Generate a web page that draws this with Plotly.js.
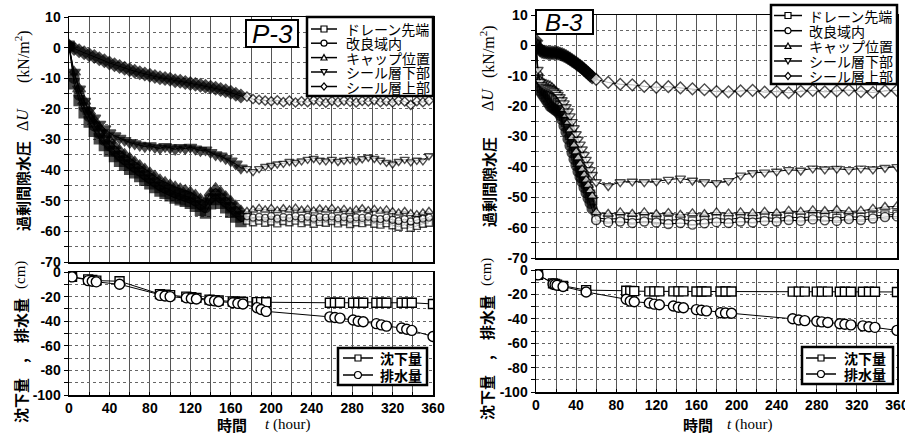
<!DOCTYPE html>
<html><head><meta charset="utf-8">
<script src="https://cdn.plot.ly/plotly-3.0.1.min.js"></script>
<style>html,body{margin:0;padding:0;background:#fff}#chart{width:905px;height:436px}</style>
</head><body><div id="chart"></div>
<script>
// ---------- DATA ----------
const seriesNames = ['ドレーン先端', '改良域内', 'キャップ位置', 'シール層下部', 'シール層上部'];
const lowerNames = ['沈下量', '排水量'];

// P-3 : excess pore water pressure (kN/m2)
const tDenseP3 = [0,5,10,15,20,25,30,35,40,45,50,55,60,65,70,75,80,85,90,95,100,105,110,115,120,125,130,135,140,145,150,155,160,165,170];
const tSparseP3 = [176,182,188,194,200,206,212,218,224,230,236,242,248,254,260,266,272,278,284,290,296,302,308,314,320,326,332,338,344,350,356];
const p3DrainDense = [0.5,-11.8,-17.3,-21.3,-24.3,-27.3,-29.8,-32,-33.8,-35.6,-37.1,-38.4,-39.7,-40.9,-42.1,-43.3,-44.5,-45.7,-46.8,-47.6,-48.4,-49.1,-49.7,-50.2,-50.8,-51.8,-53.1,-54,-51,-49.6,-50.8,-52.3,-53.8,-55.3,-56.8];
const p3ImprDense = [0.5,-10,-15.5,-19.5,-22.5,-25.5,-28,-30.2,-32,-33.8,-35.3,-36.6,-37.9,-39.1,-40.3,-41.5,-42.7,-43.9,-45,-45.8,-46.6,-47.3,-47.9,-48.4,-49,-50,-51.3,-52.2,-49.2,-47.8,-49,-50.5,-52,-53.5,-55];
const p3CapDense = [0.5,-8,-13.5,-17.5,-20.8,-23.8,-26.3,-28.5,-30.3,-32,-33.6,-34.9,-36.1,-37.3,-38.5,-39.7,-40.9,-42,-43.2,-44,-44.8,-45.5,-46.1,-46.6,-47.2,-48.2,-49.5,-50.3,-47.4,-46,-47.2,-48.7,-50.2,-51.7,-53.3];
const p3SealLowDense = [0.5,-8,-13.5,-17.5,-20.5,-23,-25,-26.5,-27.8,-28.8,-29.6,-30.3,-31,-31.4,-31.9,-32.3,-32,-32.6,-32.9,-32.3,-32.7,-33.2,-32.6,-33,-32.5,-33.1,-33.6,-33.4,-34.2,-35,-35.4,-36.2,-37,-38,-39.3];
const p3SealUpDense = [0.5,-0.3,-1.0,-1.7,-2.3,-2.9,-3.6,-4.3,-5.0,-5.6,-6.2,-6.7,-7.2,-7.7,-8.2,-8.6,-9.0,-9.4,-9.8,-10.1,-10.3,-10.8,-11.0,-11.4,-11.7,-12.0,-12.3,-12.6,-12.9,-13.3,-13.7,-14.1,-14.6,-15.2,-15.8];
const p3DrainSparse = [-56.5,-57,-56.5,-57.2,-56.8,-57.4,-56.6,-57,-56.5,-57.3,-56.8,-57.5,-56.9,-57.2,-56.6,-57.4,-56.8,-57.6,-57,-57.3,-56.8,-57.5,-57.8,-57.3,-58,-58.5,-57.8,-58.8,-58.2,-57.5,-57.2];
const p3ImprSparse = [-55,-55.5,-55.2,-55.6,-55,-55.8,-55.3,-55.6,-55,-55.7,-55.2,-55.8,-55.3,-55.5,-55.1,-55.7,-55.3,-55.9,-55.4,-55.6,-55.2,-55.8,-56,-55.5,-56.2,-56.6,-56,-56.8,-56.3,-55.8,-55.5];
const p3CapSparse = [-53.5,-53,-52.5,-53,-52.5,-53.2,-52.6,-53,-52.4,-53.1,-52.8,-53.3,-52.7,-53,-52.5,-53.2,-52.8,-53.5,-53,-52.6,-53.2,-52.8,-53.4,-53,-53.6,-54,-53.5,-54.2,-54.5,-54,-53.5];
const p3SealLowSparse = [-39.5,-40.5,-39.5,-38.8,-38.5,-38,-37.8,-37.2,-37.5,-37,-36.5,-36.2,-36.8,-37,-36.5,-37.2,-36.8,-36.5,-37,-36.3,-35.8,-36.2,-36.8,-37.5,-38,-37.2,-36.5,-37.3,-36.8,-37,-35.3];
const p3SealUpSparse = [-16,-16.8,-17,-17.3,-17.5,-17.2,-17.8,-17.3,-17.9,-17.5,-17.8,-17.2,-17.6,-18,-17.4,-17.8,-17.3,-17.7,-17.9,-17.4,-17.6,-17.2,-17.8,-17.5,-17.9,-17.3,-17.6,-18.7,-17.5,-17.8,-17.3];

// B-3 : excess pore water pressure (kN/m2)
const tDenseB3 = [0,2,4,6,8,10,12,14,16,18,20,22,24,26,28,30,32,34,36,38,40,42,44,46,48,50,52,54,56];
const tSparseB3 = [60,72,84,96,108,120,132,144,156,168,180,192,204,216,228,240,252,264,276,288,300,312,324,336,348,360];
const b3DrainDense = [0,-11,-13.5,-14,-14.5,-15,-15.5,-16,-16.5,-17.2,-18,-19,-20,-21.5,-23.3,-25.2,-27.3,-29.5,-31.8,-34,-36.3,-38.3,-40.2,-42,-43.8,-45.6,-47.4,-49.2,-51];
const b3ImprDense = [0,-12,-15,-16,-17,-18,-19,-20,-20.5,-21,-21.5,-22,-23,-24.5,-26.5,-28.5,-30.8,-33,-35.3,-37.5,-39.5,-41.5,-43.3,-45,-46.8,-48.5,-50.3,-52,-53.8];
const b3CapDense = [1,-9,-11.5,-12,-12.5,-12.8,-13,-13.3,-13.8,-14.5,-15.3,-16.3,-17.5,-19,-21,-23,-25.3,-27.8,-30.3,-32.8,-35,-37,-39,-40.8,-42.6,-44.3,-46,-47.8,-49.6];
const b3SealLowDense = [1,-8,-12,-13,-13.5,-13.8,-14,-14.3,-14.6,-15,-15.5,-16.2,-17,-18,-19,-20.3,-21.7,-23.3,-25.2,-27.2,-29.2,-31,-32.6,-34.2,-36,-37.6,-39.3,-41,-42.6];
const b3SealUpDense = [1.5,-0.5,-1.5,-2,-2.2,-2.3,-2.4,-2.5,-2.4,-2.5,-2.4,-2.6,-2.8,-3,-3.3,-3.7,-4.1,-4.5,-5,-5.4,-5.9,-6.4,-6.9,-7.4,-8,-8.6,-9.2,-9.8,-10.4];
const b3DrainSparse = [-56.8,-57.2,-57,-57.5,-57,-57.4,-57.6,-57.3,-57.8,-57.4,-57,-57.3,-56.8,-57.1,-56.7,-57,-56.5,-56.8,-56.4,-56.6,-56.9,-56.4,-56.6,-56.2,-55.8,-55.6];
const b3ImprSparse = [-57.5,-58.2,-58,-58.5,-58,-58.3,-58.8,-58.5,-59,-58.6,-58.2,-58.5,-58,-58.3,-57.8,-58,-57.5,-57.8,-57.3,-57.6,-57.8,-57.2,-57.5,-57,-56.5,-56.3];
const b3CapSparse = [-55,-55.5,-55,-55.5,-55,-55.6,-55.2,-55.8,-55.3,-55.6,-55,-55.4,-55,-55.3,-54.8,-55.2,-54.5,-54.8,-54.3,-54.6,-54.2,-54.7,-54.5,-53.8,-53.2,-53];
const b3SealLowSparse = [-45,-46.3,-45,-44.8,-45,-44.8,-44.2,-43.8,-44.5,-45,-45.3,-44.6,-42.8,-42,-41.8,-41.5,-41,-41.2,-40.5,-40.8,-40.6,-41,-40.5,-40.8,-40.3,-40];
const b3SealUpSparse = [-11.2,-12.2,-12.8,-13,-13.5,-13.8,-13.6,-14,-14.3,-14.6,-15.2,-15.3,-15,-14.8,-15.4,-15.2,-15.6,-15.1,-14.8,-15.3,-15,-14.7,-15.2,-15.5,-15,-14.8];

// settlement / drainage (cm)
const tLowP3 = [3,19,23,27,50,90,95,100,116,121,126,139,144,148,162,167,172,186,190,195,258,263,268,281,286,291,304,309,314,329,334,339,360];
const settleP3 = [-4,-6,-6.5,-7,-7.5,-18,-18.5,-18.8,-20,-20.5,-21,-22.5,-23,-23.2,-24,-24.2,-24.4,-24.5,-24.5,-24.6,-25,-25,-25,-25,-25,-25,-25,-25,-25,-25,-25,-25,-26];
const drainP3 = [-4,-7,-7.5,-8,-10,-19,-19.5,-20,-21,-21.5,-22,-23,-23.5,-24,-25,-25.5,-26,-29,-30.5,-32,-36.5,-37,-37.5,-39,-40,-40.5,-42,-43,-44,-45.5,-46.5,-47.5,-52.5];
const tLowB3 = [2,17,19,21,27,50,90,94,98,113,118,123,137,142,147,160,165,170,184,189,195,256,262,268,280,285,291,303,308,314,326,332,338,360];
const settleB3 = [-4,-11,-11.5,-12,-13,-16.5,-17,-17.2,-17.3,-17.5,-17.5,-17.5,-17.5,-17.5,-17.5,-17.6,-17.6,-17.6,-17.6,-17.6,-17.6,-17.7,-17.7,-17.7,-17.7,-17.7,-17.7,-17.8,-17.8,-17.8,-17.8,-17.8,-17.8,-18];
const drainB3 = [-4,-11.5,-12,-12.5,-13.5,-18,-24,-25.5,-26,-27,-28,-28.5,-29.5,-30.5,-31,-32.5,-33,-33.5,-35,-35.3,-35.5,-40,-41,-41.5,-42,-42.5,-43,-44,-44.5,-45,-45.8,-46.5,-47,-49.5];

// axis ticks
const xGridVals = [0,20,40,60,80,100,120,140,160,180,200,220,240,260,280,300,320,340,360];
const xTickLabels = ['0','40','80','120','160','200','240','280','320','360'];
const yUpperVals = [-70,-65,-60,-55,-50,-45,-40,-35,-30,-25,-20,-15,-10,-5,0,5,10];
const yUpperLabels = ['-70','-60','-50','-40','-30','-20','-10','0','10'];
const yLowerVals = [-100,-90,-80,-70,-60,-50,-40,-30,-20,-10,0];
const yLowerLabels = ['-100','-80','-60','-40','-20','0'];

// ---------- RENDER ----------
const W = 905, H = 436;
const px = x => x / W, py = y => 1 - y / H;
const SYM = ['square', 'circle', 'triangle-up', 'triangle-down', 'diamond'];
const SYM_LOW = ['square', 'circle'];

function pressureTraces(tD, tS, dense, sparse, xa, ya, fills, sizeD, sizeS) {
  return dense.map((d, i) => ({
    type: 'scatter', mode: 'lines+markers', name: seriesNames[i], showlegend: false,
    x: tD.concat(tS), y: d.concat(sparse[i]), xaxis: xa, yaxis: ya,
    line: {color: '#000', width: 1},
    marker: {symbol: SYM[i],
      size: tD.map(() => sizeD[i]).concat(tS.map(() => sizeS[i])),
      color: tD.map(() => fills[i]).concat(tS.map(() => '#fff')),
      line: {color: '#000', width: 1.4}}
  }));
}
function lowerTraces(t, series, xa, ya) {
  return series.map((s, i) => ({
    type: 'scatter', mode: 'lines+markers', name: lowerNames[i], showlegend: false,
    x: t, y: s, xaxis: xa, yaxis: ya,
    line: {color: '#000', width: 1},
    marker: {symbol: SYM_LOW[i], size: i === 0 ? 9 : 10, color: '#fff', line: {color: '#000', width: 1.4}}
  }));
}

const traces = [].concat(
  pressureTraces(tDenseP3, tSparseP3,
    [p3DrainDense, p3ImprDense, p3CapDense, p3SealLowDense, p3SealUpDense],
    [p3DrainSparse, p3ImprSparse, p3CapSparse, p3SealLowSparse, p3SealUpSparse],
    'x', 'y', ['#000', '#000', '#000', '#000', '#000'], [10, 10, 11, 11, 10], [7, 7, 8, 8, 7]),
  lowerTraces(tLowP3, [settleP3, drainP3], 'x2', 'y2'),
  pressureTraces(tDenseB3, tSparseB3,
    [b3DrainDense, b3ImprDense, b3CapDense, b3SealLowDense, b3SealUpDense],
    [b3DrainSparse, b3ImprSparse, b3CapSparse, b3SealLowSparse, b3SealUpSparse],
    'x3', 'y3', ['#777', '#000', '#fff', '#fff', '#000'], [9, 10, 9, 9, 10], [8, 9, 9, 9, 9]),
  lowerTraces(tLowB3, [settleB3, drainB3], 'x4', 'y4')
);

const tickFont = {family: '"Liberation Sans Narrow","Liberation Sans",Arial,sans-serif', size: 14, weight: 700, color: '#000'};
function xAxis(x0, x1, anchor, showLabels) {
  return {domain: [px(x0), px(x1)], anchor: anchor, range: [0, 360], tickmode: 'array',
    tickvals: xGridVals,
    ticktext: xGridVals.map(v => showLabels && xTickLabels.includes(String(v)) ? String(v) : ''),
    showticklabels: showLabels, ticklabeloverflow: 'allow',
    showgrid: true, gridcolor: '#555', gridwidth: 1, zeroline: false,
    showline: true, mirror: true, linecolor: '#000', linewidth: 1.5,
    ticks: showLabels ? 'inside' : '', ticklen: 3, tickcolor: '#000', tickfont: tickFont, fixedrange: true};
}
function yAxis(y0, y1, anchor, range, vals, labels) {
  return {domain: [py(y1), py(y0)], anchor: anchor, range: range, tickmode: 'array',
    tickvals: vals, ticktext: vals.map(v => labels.includes(String(v)) ? String(v) : ''),
    showgrid: true, gridcolor: '#666', gridwidth: 1, griddash: 'dot', zeroline: false,
    showline: true, mirror: true, linecolor: '#000', linewidth: 1.5,
    ticks: 'outside', ticklen: 4, tickcolor: '#000', tickfont: tickFont, fixedrange: true};
}

const cjk = '"Noto Sans CJK JP","Noto Sans CJK SC",sans-serif';
const serif = '"Liberation Serif","DejaVu Serif",serif';
const annotations = [];
const shapes = [];
function txt(text, x, y, opt) {
  annotations.push(Object.assign({text: text, x: px(x), y: py(y), xref: 'paper', yref: 'paper',
    showarrow: false, xanchor: 'center', yanchor: 'middle', borderpad: 0,
    font: {family: cjk, size: 14, color: '#000'}}, opt || {}));
}
function rect(x0, y0, x1, y1, w) {
  shapes.push({type: 'rect', xref: 'paper', yref: 'paper', x0: px(x0), x1: px(x1), y0: py(y1), y1: py(y0),
    line: {color: '#000', width: w}, fillcolor: '#fff', layer: 'above'});
}
function legendSymbol(sym, x0, x1, y, r) {
  shapes.push({type: 'line', xref: 'paper', yref: 'paper', x0: px(x0), x1: px(x1), y0: py(y), y1: py(y),
    line: {color: '#000', width: 1.5}});
  const cx = (x0 + x1) / 2;
  const base = {xref: 'paper', yref: 'paper', line: {color: '#000', width: 1.2}, fillcolor: '#fff'};
  if (sym === 'circle') shapes.push(Object.assign({type: 'circle', x0: px(cx - r), x1: px(cx + r), y0: py(y + r), y1: py(y - r)}, base));
  else if (sym === 'square') shapes.push(Object.assign({type: 'rect', x0: px(cx - r), x1: px(cx + r), y0: py(y + r), y1: py(y - r)}, base));
  else {
    let pts;
    if (sym === 'triangle-up') pts = [[cx, y - r], [cx + r, y + r * 0.8], [cx - r, y + r * 0.8]];
    else if (sym === 'triangle-down') pts = [[cx, y + r], [cx + r, y - r * 0.8], [cx - r, y - r * 0.8]];
    else pts = [[cx, y - r * 1.2], [cx + r, y], [cx, y + r * 1.2], [cx - r, y]];
    const d = 'M' + pts.map(p => px(p[0]) + ',' + py(p[1])).join('L') + 'Z';
    shapes.push(Object.assign({type: 'path', path: d}, base));
  }
}
const fBold = {family: cjk, size: 15, weight: 700, color: '#000'};
const fSerif = {family: serif, size: 16, color: '#000'};

// Panel P-3 (left)
txt('過剰間隙水圧', 22, 186, {textangle: -90, font: fBold});
txt('Δ<i>U</i>', 22, 120, {textangle: -90, font: fSerif});
txt('(kN/m<sup>2</sup>)', 22, 57, {textangle: -90, font: fSerif});
txt('沈下量　,　排水量', 20, 361, {textangle: -90, font: fBold});
txt('(cm)', 20, 275, {textangle: -90, font: {family: serif, size: 15, color: '#000'}});
txt('時間', 232, 424, {font: fBold});
txt('<i>t</i> (hour)', 287, 424, {font: {family: serif, size: 15, color: '#000'}});
rect(246, 20, 298, 47, 2);
txt('<i>P-3</i>', 272, 34, {font: {family: '"Liberation Sans Narrow","Liberation Sans",sans-serif', size: 26, color: '#000'}});
rect(307, 17, 433, 96, 2.5);
[29, 43.2, 57.6, 72, 86.5].forEach((y, i) => {
  legendSymbol(SYM[i], 311, 337, y, 3);
  txt(seriesNames[i], 345, y, {xanchor: 'left', font: {family: cjk, size: 14, color: '#000'}});
});
rect(338, 348, 427, 385, 2.5);
[358, 375].forEach((y, i) => {
  legendSymbol(SYM_LOW[i], 343, 373, y, i === 0 ? 3 : 3.5);
  txt(lowerNames[i], 379, y, {xanchor: 'left', font: {family: cjk, size: 14, weight: 700, color: '#000'}});
});

// Panel B-3 (right)
txt('過剰間隙水圧', 488, 182, {textangle: -90, font: fBold});
txt('Δ<i>U</i>', 488, 100, {textangle: -90, font: fSerif});
txt('(kN/m<sup>2</sup>)', 488, 52, {textangle: -90, font: fSerif});
txt('沈下量　,　排水量', 486, 358, {textangle: -90, font: fBold});
txt('(cm)', 486, 272, {textangle: -90, font: {family: serif, size: 15, color: '#000'}});
txt('時間', 698, 424, {font: fBold});
txt('<i>t</i> (hour)', 749, 424, {font: {family: serif, size: 15, color: '#000'}});
rect(536, 10, 593, 34, 2);
txt('<i>B-3</i>', 564, 22, {font: {family: '"Liberation Sans Narrow","Liberation Sans",sans-serif', size: 24, color: '#000'}});
rect(771, 5, 897, 84, 2.5);
[15.5, 30.7, 46, 61, 76].forEach((y, i) => {
  legendSymbol(SYM[i], 774, 802, y, 3);
  txt(seriesNames[i], 808, y, {xanchor: 'left', font: {family: cjk, size: 14, color: '#000'}});
});
rect(802, 347, 893, 384, 2.5);
[358, 374].forEach((y, i) => {
  legendSymbol(SYM_LOW[i], 806, 836, y, i === 0 ? 3 : 3.5);
  txt(lowerNames[i], 843, y, {xanchor: 'left', font: {family: cjk, size: 14, weight: 700, color: '#000'}});
});

const layout = {
  width: W, height: H, margin: {l: 0, r: 0, t: 0, b: 0, pad: 0},
  paper_bgcolor: '#fff', plot_bgcolor: '#fff', showlegend: false,
  xaxis: xAxis(69, 433, 'y', false),
  yaxis: yAxis(17, 262, 'x', [-70, 10], yUpperVals, yUpperLabels),
  xaxis2: xAxis(69, 433, 'y2', true),
  yaxis2: yAxis(272, 395, 'x2', [-100, 0], yLowerVals, yLowerLabels),
  xaxis3: xAxis(536, 897, 'y3', false),
  yaxis3: yAxis(15, 258, 'x3', [-70, 10], yUpperVals, yUpperLabels),
  xaxis4: xAxis(536, 897, 'y4', true),
  yaxis4: yAxis(270, 392, 'x4', [-100, 0], yLowerVals, yLowerLabels),
  annotations: annotations, shapes: shapes
};
Plotly.newPlot('chart', traces, layout, {staticPlot: true, displayModeBar: false});
</script></body></html>
